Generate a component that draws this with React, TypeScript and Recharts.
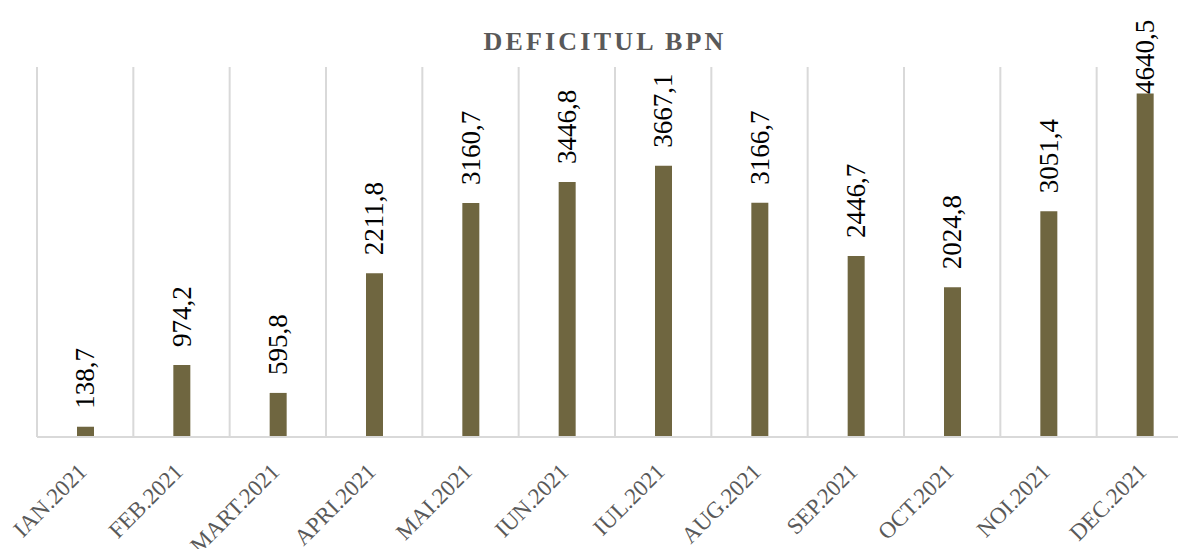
import React from "react";
import { BarChart, Bar, XAxis, YAxis, CartesianGrid, LabelList } from "recharts";

const months = [
  "IAN.2021", "FEB.2021", "MART.2021", "APRI.2021", "MAI.2021", "IUN.2021",
  "IUL.2021", "AUG.2021", "SEP.2021", "OCT.2021", "NOI.2021", "DEC.2021",
];
const deficit = [
  138.7, 974.2, 595.8, 2211.8, 3160.7, 3446.8,
  3667.1, 3166.7, 2446.7, 2024.8, 3051.4, 4640.5,
];

const data = months.map((m, i) => ({ month: m, value: deficit[i] }));

const SERIF = "'Liberation Serif', 'DejaVu Serif', serif";
const fmt = (v: number) => v.toFixed(1).replace(".", ",");

const MonthTick = ({ x, y, payload }: any) => {
  const ax = x + 3;
  const ay = y + 36;
  return (
    <text x={ax} y={ay} textAnchor="end" fill="#595959" fontFamily={SERIF} fontSize={23}
      transform={`rotate(-45, ${ax}, ${ay})`}>
      {payload.value}
    </text>
  );
};

const ValueLabel = ({ x, y, width, value }: any) => {
  const txt = fmt(value);
  const len = txt.length * 13;
  const cx = x + width / 2;
  // keep the label inside the chart area like excel does
  const by = Math.max(y - 18, 16 + len);
  return (
    <text x={cx} y={by} textAnchor="start" dominantBaseline="central" fill="#000"
      fontFamily={SERIF} fontSize={27} transform={`rotate(-90, ${cx}, ${by})`}>
      {txt}
    </text>
  );
};

export default function App() {
  return (
    <div style={{ position: "relative", width: 1178, height: 549, overflow: "hidden", background: "#fff" }}>
      <style>{`body{margin:0;overflow:hidden}`}</style>
      <div style={{
        position: "absolute", left: 0, width: 1210, top: 27, textAlign: "center",
        fontFamily: SERIF, fontWeight: "bold", fontSize: 26, letterSpacing: 3.2, color: "#595959",
      }}>
        DEFICITUL BPN
      </div>
      <BarChart width={1200} height={549} data={data}
        margin={{ top: 67, right: 7, left: 37, bottom: 0 }} barSize={17}>
        <CartesianGrid horizontal={false} stroke="#d9d9d9" strokeWidth={2}
          verticalCoordinatesGenerator={({ offset }: any) =>
            months.map((_, i) => offset.left + (i * offset.width) / months.length)} />
        <XAxis dataKey="month" height={112} interval={0} tickLine={false} tickSize={0} tickMargin={0}
          axisLine={{ stroke: "#d9d9d9", strokeWidth: 2 }} tick={<MonthTick />} />
        <YAxis hide domain={[0, 5000]} />
        <Bar dataKey="value" fill="#6F6640" isAnimationActive={false}>
          <LabelList dataKey="value" content={<ValueLabel />} />
        </Bar>
      </BarChart>
    </div>
  );
}
